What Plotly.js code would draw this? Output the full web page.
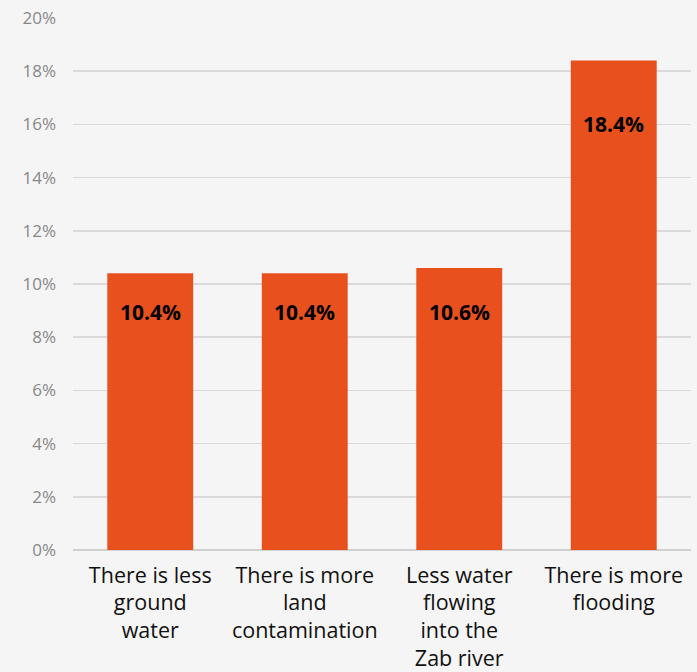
<!DOCTYPE html>
<html><head><meta charset="utf-8">
<script src="https://cdn.plot.ly/plotly-3.0.1.min.js"></script>
<style>html,body{margin:0;padding:0;background:#f5f5f5;}</style>
</head><body>
<div id="chart" style="width:697px;height:672px;"></div>
<script>
const categories = ["There is less<br>ground<br>water", "There is more<br>land<br>contamination", "Less water<br>flowing<br>into the<br>Zab river", "There is more<br>flooding"];
const values = [10.4, 10.4, 10.6, 18.4];
const labels = ["10.4%", "10.4%", "10.6%", "18.4%"];
const tickVals = [0, 2, 4, 6, 8, 10, 12, 14, 16, 18, 20];
const tickText = ["0%", "2%", "4%", "6%", "8%", "10%", "12%", "14%", "16%", "18%", "20%"];
const labelShift = [-39, -39, -44, -63];

const trace = {
  type: "bar", x: categories, y: values,
  marker: {color: "#e8501e"},
  hoverinfo: "none"
};
const annotations = categories.map((c, i) => ({
  x: c, y: values[i], xref: "x", yref: "y", text: "<b>" + labels[i] + "</b>",
  showarrow: false, yshift: labelShift[i], yanchor: "middle",
  font: {family: "Open Sans, sans-serif", size: 21, color: "#000"}
}));
const layout = {
  width: 697, height: 672,
  margin: {l: 73, r: 6, t: 18, b: 122},
  paper_bgcolor: "#f5f5f5", plot_bgcolor: "#f5f5f5",
  bargap: 0.444,
  showlegend: false,
  xaxis: {tickfont: {family: "Open Sans, sans-serif", size: 21.5, color: "#111"}, showgrid: false, zeroline: false, ticks: "", ticklabelstandoff: 10, fixedrange: true},
  yaxis: {range: [0, 20], tickvals: tickVals, ticktext: tickText, gridcolor: "#d9d9d9", gridwidth: 1.5,
    zeroline: true, zerolinecolor: "#d0d0d0", zerolinewidth: 1.5,
    tickfont: {family: "Open Sans, sans-serif", size: 17, color: "#888"}, ticklabelstandoff: 16, fixedrange: true},
  annotations: annotations
};
Plotly.newPlot("chart", [trace], layout, {displayModeBar: false, staticPlot: true});
</script>
</body></html>
